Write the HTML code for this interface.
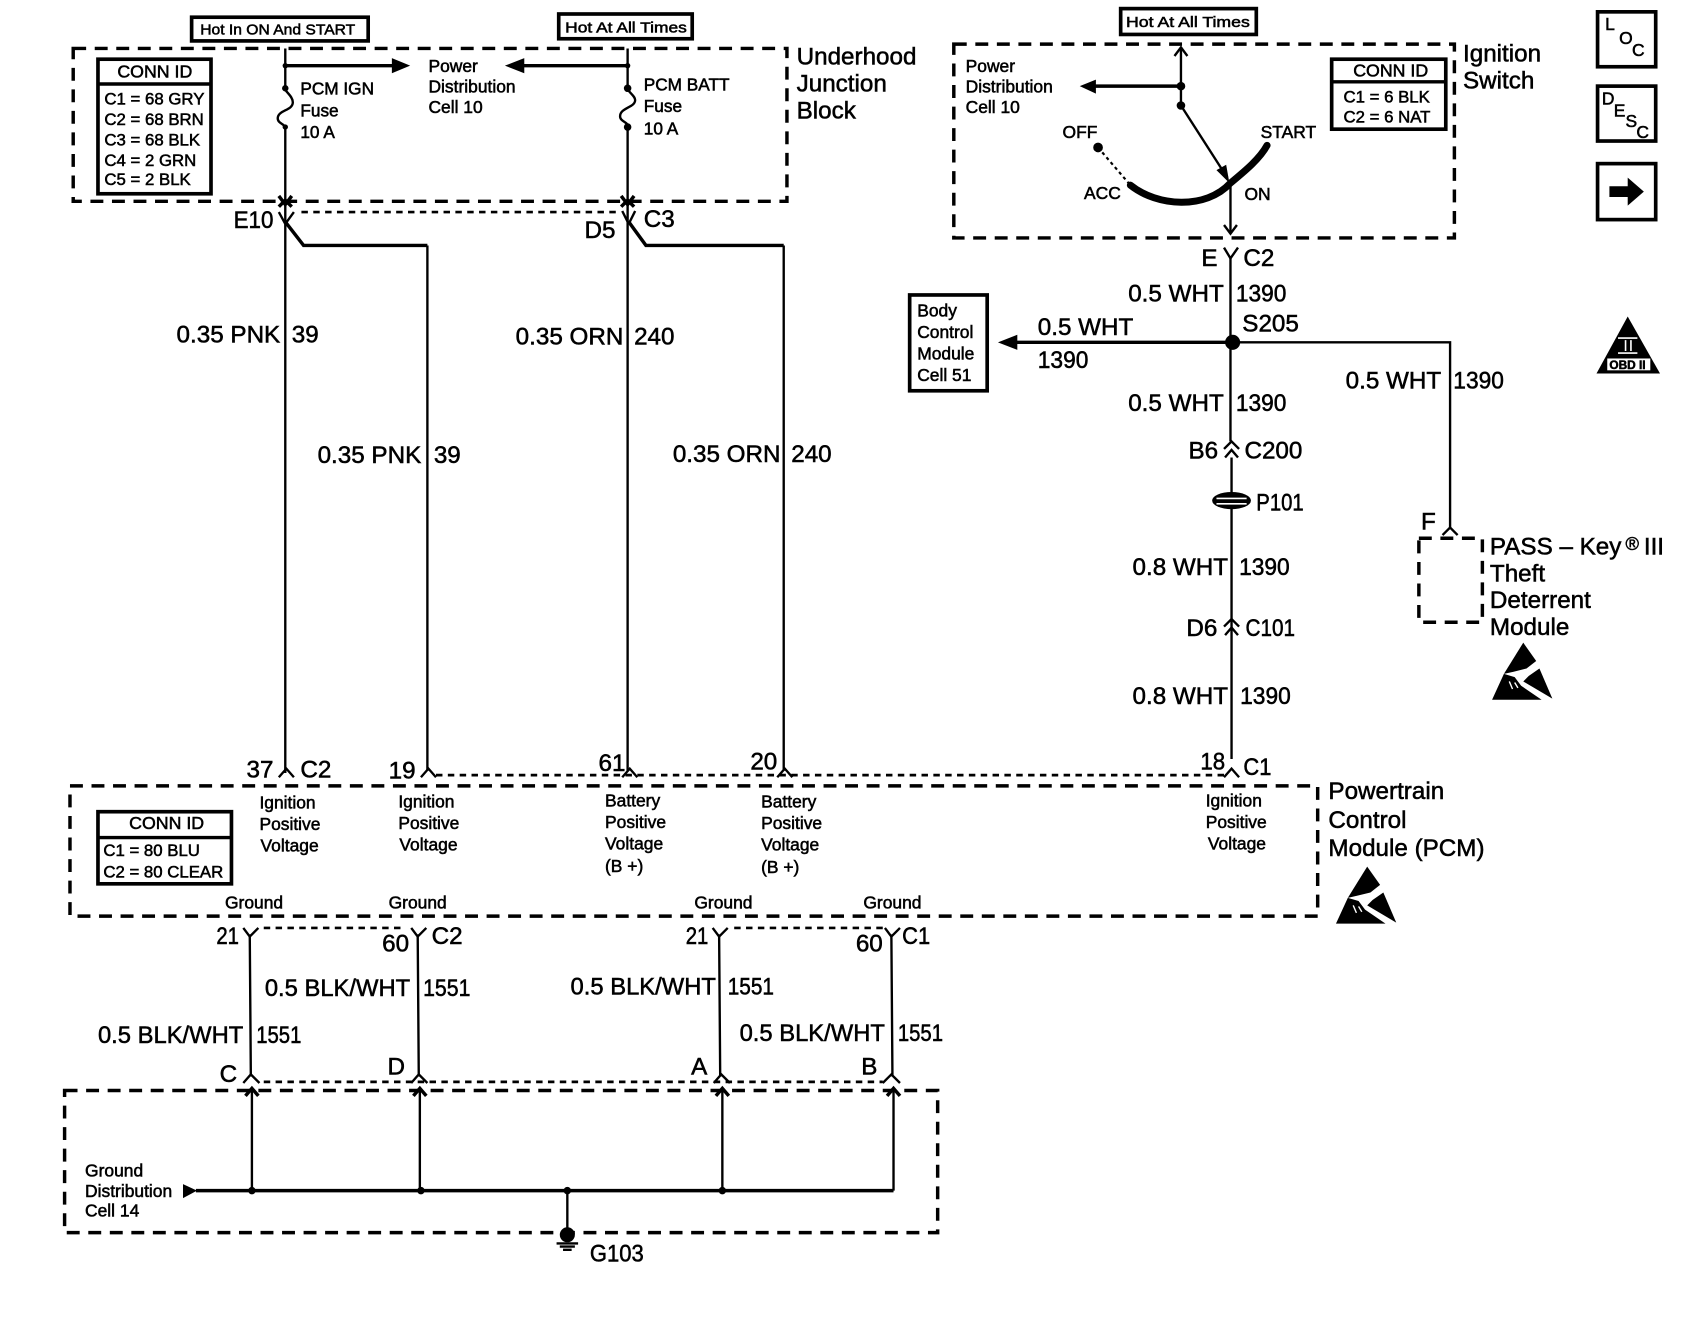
<!DOCTYPE html>
<html><head><meta charset="utf-8"><title>PCM wiring diagram</title>
<style>
html,body{margin:0;padding:0;background:#fff}
svg{display:block}
text{font-family:"Liberation Sans",sans-serif;fill:#000;stroke:#000;stroke-width:.5}
.s{font-size:16.2px}.m{font-size:22.5px}.t{font-size:14px}.c{font-size:15.6px}.h{font-size:16.5px}
.w{stroke:#000;stroke-width:2.2;fill:none}
.b{stroke:#000;stroke-width:3.2;fill:none}
.d{stroke:#000;stroke-width:3.2;fill:none;stroke-dasharray:12 8}
.o{stroke:#000;stroke-width:2.5;fill:none;stroke-dasharray:6 5}
.k{fill:#000;stroke:none}
.r{fill:#fff;stroke:#000;stroke-width:3.4}
</style></head><body>
<svg xmlns="http://www.w3.org/2000/svg" width="1688" height="1328" viewBox="0 0 1568 1233.6">
<defs>
<g id="esd">
<path class="k" d="M29 0L41 17L32 24L20 27L11 29Z"/>
<path class="k" d="M44 24L56 52L29 36L34 31Z"/>
<path class="k" d="M11 29L0 53H46L27 40L21 32Z"/>
<path d="M16 36L19 43M21 37L24 42" stroke="#fff" stroke-width="1.3" fill="none"/>
</g>
</defs>
<rect width="1568" height="1234" fill="#fff"/>

<!-- Tags -->
<rect class="r" x="178" y="16" width="164" height="22"/>
<text class="t" x="186" y="32" textLength="144" lengthAdjust="spacingAndGlyphs">Hot In ON And START</text>
<rect class="r" x="519" y="13" width="124" height="23"/>
<text class="t" x="525" y="30" textLength="113" lengthAdjust="spacingAndGlyphs">Hot At All Times</text>
<rect class="r" x="1041" y="8" width="126" height="24"/>
<text class="t" x="1046" y="25" textLength="115" lengthAdjust="spacingAndGlyphs">Hot At All Times</text>

<!-- Underhood Junction Block -->
<rect class="d" x="68" y="45" width="663" height="142"/>
<g class="m"><text x="740" y="60">Underhood</text><text x="740" y="85">Junction</text><text x="740" y="110">Block</text></g>
<rect class="r" x="91" y="55" width="105" height="125"/>
<path class="b" d="M91 78H196"/>
<text class="h" x="109" y="72">CONN ID</text>
<g class="c"><text x="97" y="97">C1 = 68 GRY</text><text x="97" y="116">C2 = 68 BRN</text><text x="97" y="135">C3 = 68 BLK</text><text x="97" y="154">C4 = 2 GRN</text><text x="97" y="172">C5 = 2 BLK</text></g>

<path class="w" d="M265 45V80M265 118V718"/>
<path class="w" d="M265 80C262 84 272 88 272 95C272 103 258 102 258 110C258 115 265 115 265 119"/>
<circle class="k" cx="265" cy="61" r="2.5"/><circle class="k" cx="265" cy="82" r="3"/><circle class="k" cx="265" cy="118" r="2.5"/>
<path class="b" d="M265 61H368"/><path class="k" d="M364 54L381 61L364 68Z"/>
<g class="s" style="font-size:16px"><text x="279" y="88">PCM IGN</text><text x="279" y="108">Fuse</text><text x="279" y="128">10 A</text></g>
<g class="s"><text x="398" y="67">Power</text><text x="398" y="86">Distribution</text><text x="398" y="105">Cell 10</text></g>

<path class="w" d="M583 45V79M583 116V716"/>
<path class="w" d="M583 79C580 84 590 88 590 93C590 100 576 100 576 108C576 113 583 113 583 117"/>
<circle class="k" cx="583" cy="61" r="2.5"/><circle class="k" cx="583" cy="82" r="3.5"/><circle class="k" cx="583" cy="118" r="3.5"/>
<path class="b" d="M583 61H482"/><path class="k" d="M487 54L469 61L487 68Z"/>
<g class="s" style="font-size:16px"><text x="598" y="84">PCM BATT</text><text x="598" y="104">Fuse</text><text x="598" y="125">10 A</text></g>

<path class="b" d="M259 182L265 190L271 182M259 192L265 186L271 192"/>
<path class="b" d="M577 182L583 190L589 182M577 192L583 186L589 192"/>
<path class="w" d="M259 197L265 208M273 197L265 208"/>
<path class="w" d="M578 196L584 208M590 196L584 208"/>
<path class="o" d="M280 197H574"/>
<path class="b" d="M265 206L282 228H397"/><path class="w" d="M397 228V716"/>
<path class="b" d="M584 206L600 228H728"/><path class="w" d="M728 228V716"/>
<g class="m"><text x="217" y="212" textLength="37" lengthAdjust="spacingAndGlyphs">E10</text><text x="543" y="221">D5</text><text x="598" y="211">C3</text></g>

<g class="m">
<text x="164" y="318">0.35 PNK</text><text x="271" y="318">39</text>
<text x="295" y="430">0.35 PNK</text><text x="403" y="430">39</text>
<text x="479" y="320">0.35 ORN</text><text x="589" y="320">240</text>
<text x="625" y="429">0.35 ORN</text><text x="735" y="429">240</text>
</g>

<!-- PCM top connectors -->
<path class="o" d="M405 720H1138"/>
<path class="w" d="M259 722L266 714L273 722M391 722L398 714L405 722M578 722L585 714L592 722M722 722L729 714L736 722M1137 722L1144 714L1151 722"/>
<g class="m"><text x="229" y="722">37</text><text x="279" y="722">C2</text><text x="361" y="723">19</text><text x="556" y="716">61</text><text x="697" y="715">20</text><text x="1115" y="715" textLength="23" lengthAdjust="spacingAndGlyphs">18</text><text x="1155" y="720" textLength="26" lengthAdjust="spacingAndGlyphs">C1</text></g>

<!-- PCM -->
<rect class="d" x="65" y="730" width="1159" height="121"/>
<g class="m"><text x="1234" y="742">Powertrain</text><text x="1234" y="769">Control</text><text x="1234" y="795">Module (PCM)</text></g>
<use href="#esd" x="1241" y="805"/>
<rect class="r" x="91" y="754" width="124" height="67"/>
<path class="b" d="M91 778H215"/>
<text class="h" x="120" y="770">CONN ID</text>
<g class="c"><text x="96" y="795">C1 = 80 BLU</text><text x="96" y="815">C2 = 80 CLEAR</text></g>
<g class="s">
<text x="241" y="751">Ignition</text><text x="241" y="771">Positive</text><text x="242" y="791">Voltage</text>
<text x="370" y="750">Ignition</text><text x="370" y="770">Positive</text><text x="371" y="790">Voltage</text>
<text x="562" y="749">Battery</text><text x="562" y="769">Positive</text><text x="562" y="789">Voltage</text><text x="562" y="810">(B +)</text>
<text x="707" y="750">Battery</text><text x="707" y="770">Positive</text><text x="707" y="790">Voltage</text><text x="707" y="811">(B +)</text>
<text x="1120" y="749">Ignition</text><text x="1120" y="769">Positive</text><text x="1122" y="789">Voltage</text>
<text x="209" y="844">Ground</text><text x="361" y="844">Ground</text><text x="645" y="844">Ground</text><text x="802" y="844">Ground</text>
</g>

<!-- Lower wires -->
<path class="o" d="M245 862H376M682 862H820"/>
<path class="w" d="M226 862L232 870L240 862M382 862L388 870L396 862M662 862L668 870L676 862M822 862L828 870L836 862"/>
<path class="w" d="M232 868L233 1000M388 868L389 1000M668 868L669 1000M828 868L829 1000"/>
<path class="o" d="M245 1005H820"/>
<path class="w" d="M226 1006L233 998L241 1006M382 1006L389 998L397 1006M663 1006L670 998L678 1006M820 1006L828 998L836 1006"/>
<g class="m"><text x="201" y="877" textLength="21" lengthAdjust="spacingAndGlyphs">21</text><text x="355" y="884">60</text><text x="401" y="877">C2</text><text x="637" y="877" textLength="21" lengthAdjust="spacingAndGlyphs">21</text><text x="795" y="884">60</text><text x="838" y="877" textLength="26" lengthAdjust="spacingAndGlyphs">C1</text>
<text x="91" y="969" textLength="135" lengthAdjust="spacingAndGlyphs">0.5 BLK/WHT</text><text x="238" y="969" textLength="42" lengthAdjust="spacingAndGlyphs">1551</text>
<text x="246" y="925" textLength="135" lengthAdjust="spacingAndGlyphs">0.5 BLK/WHT</text><text x="393" y="925" textLength="44" lengthAdjust="spacingAndGlyphs">1551</text>
<text x="530" y="924" textLength="135" lengthAdjust="spacingAndGlyphs">0.5 BLK/WHT</text><text x="676" y="924" textLength="43" lengthAdjust="spacingAndGlyphs">1551</text>
<text x="687" y="967" textLength="135" lengthAdjust="spacingAndGlyphs">0.5 BLK/WHT</text><text x="834" y="967" textLength="42" lengthAdjust="spacingAndGlyphs">1551</text>
<text x="204" y="1005">C</text><text x="360" y="998">D</text><text x="642" y="998">A</text><text x="800" y="998">B</text></g>

<!-- Ground block -->
<rect class="d" x="60" y="1013" width="811" height="132"/>
<path class="w" d="M234 1011V1106M390 1011V1106M671 1011V1106M830 1011V1106"/>
<path class="b" d="M228 1018L234 1011L240 1018M384 1018L390 1011L396 1018M665 1018L671 1011L677 1018M824 1018L830 1011L836 1018"/>
<path class="b" d="M182 1106H830"/>
<path class="k" d="M170 1100L183 1106L170 1113Z"/>
<circle class="k" cx="234" cy="1106" r="3.5"/><circle class="k" cx="391" cy="1106" r="3.5"/><circle class="k" cx="527" cy="1106" r="3.5"/><circle class="k" cx="671" cy="1106" r="3.5"/>
<path class="w" d="M527 1106V1142"/>
<circle class="k" cx="527" cy="1147" r="7"/>
<path class="w" d="M517 1155H537M520 1158H534M523 1161H531"/>
<text class="m" x="548" y="1172" textLength="50" lengthAdjust="spacingAndGlyphs">G103</text>
<g class="s"><text x="79" y="1093">Ground</text><text x="79" y="1112">Distribution</text><text x="79" y="1130">Cell 14</text></g>

<!-- Ignition Switch -->
<rect class="d" x="886" y="41" width="465" height="180"/>
<g class="m"><text x="1359" y="57">Ignition</text><text x="1359" y="82">Switch</text></g>
<rect class="r" x="1237" y="55" width="106" height="65"/>
<path class="b" d="M1237 76H1343"/>
<text class="h" x="1257" y="71">CONN ID</text>
<g class="c"><text x="1248" y="95">C1 = 6 BLK</text><text x="1248" y="114">C2 = 6 NAT</text></g>
<path class="w" d="M1097 44V100"/>
<path class="w" d="M1091 52L1097 44L1103 52"/>
<circle class="k" cx="1097" cy="80" r="4"/><circle class="k" cx="1097" cy="98" r="4"/>
<path class="b" d="M1097 80H1014"/><path class="k" d="M1018 74L1003 80L1018 87Z"/>
<g class="s"><text x="897" y="67">Power</text><text x="897" y="86">Distribution</text><text x="897" y="105">Cell 10</text></g>
<path class="w" d="M1097 98L1140 165"/>
<path class="k" d="M1130 158L1142 170L1139 153Z"/>
<path d="M1050 172C1075 192 1120 195 1143 170C1155 160 1170 148 1177 135" fill="none" stroke="#000" stroke-width="6.5" stroke-linecap="round"/>
<circle class="k" cx="1020" cy="137" r="4.5"/>
<path d="M1020 137L1050 172" stroke="#000" stroke-width="2" stroke-dasharray="3 3" fill="none"/>
<g class="s"><text x="987" y="128">OFF</text><text x="1171" y="128">START</text><text x="1007" y="185">ACC</text><text x="1156" y="186">ON</text></g>
<path class="w" d="M1143 172V216"/>
<path class="w" d="M1137 209L1143 217L1149 209"/>
<path class="w" d="M1137 230L1143 240L1150 230"/>
<path class="w" d="M1143 238V410M1144 425V705"/>
<g class="m"><text x="1116" y="247">E</text><text x="1155" y="247">C2</text>
<text x="1048" y="280">0.5 WHT</text><text x="1148" y="280" textLength="47" lengthAdjust="spacingAndGlyphs">1390</text>
<text x="1154" y="308">S205</text>
<text x="964" y="311">0.5 WHT</text><text x="964" y="342" textLength="47" lengthAdjust="spacingAndGlyphs">1390</text>
<text x="1250" y="361">0.5 WHT</text><text x="1350" y="361" textLength="47" lengthAdjust="spacingAndGlyphs">1390</text>
<text x="1048" y="382">0.5 WHT</text><text x="1148" y="382" textLength="47" lengthAdjust="spacingAndGlyphs">1390</text>
<text x="1104" y="426">B6</text><text x="1156" y="426">C200</text>
<text x="1167" y="474" textLength="44" lengthAdjust="spacingAndGlyphs">P101</text>
<text x="1052" y="534">0.8 WHT</text><text x="1151" y="534" textLength="47" lengthAdjust="spacingAndGlyphs">1390</text>
<text x="1102" y="591">D6</text><text x="1157" y="591" textLength="46" lengthAdjust="spacingAndGlyphs">C101</text>
<text x="1052" y="654">0.8 WHT</text><text x="1152" y="654" textLength="47" lengthAdjust="spacingAndGlyphs">1390</text>
<text x="1320" y="492">F</text>
</g>
<circle class="k" cx="1145" cy="318" r="7"/>
<path class="b" d="M1145 318H940"/><path class="k" d="M945 311L927 318L945 325Z"/>
<path class="w" d="M1145 318H1347V490"/>
<rect class="r" x="845" y="274" width="72" height="89"/>
<g class="s"><text x="852" y="294">Body</text><text x="852" y="314">Control</text><text x="852" y="334">Module</text><text x="852" y="354">Cell 51</text></g>

<!-- C200 / P101 / C101 -->
<path class="w" d="M1137 417L1144 410L1151 417M1138 425L1144 418L1150 425"/>
<path class="w" d="M1137 582L1144 575L1151 582M1138 590L1144 583L1150 590"/>
<ellipse class="k" cx="1144" cy="465" rx="18" ry="8"/>
<path d="M1130 463H1158M1130 468H1158" stroke="#fff" stroke-width="1.5"/>

<!-- PASS-Key -->
<path class="w" d="M1340 497L1347 490L1354 497"/>
<rect class="d" x="1318" y="500" width="59" height="78"/>
<g class="m"><text x="1384" y="515">PASS – Key</text><text x="1510" y="511" style="font-size:17px">®</text><text x="1527" y="515">III</text>
<text x="1384" y="540">Theft</text><text x="1384" y="565">Deterrent</text><text x="1384" y="590">Module</text></g>
<use href="#esd" x="1386" y="597"/>

<!-- Right icons -->
<rect class="r" x="1484" y="11" width="54" height="51"/>
<g class="s"><text x="1491" y="28">L</text><text x="1504" y="41">O</text><text x="1516" y="52">C</text></g>
<rect class="r" x="1484" y="80" width="54" height="51"/>
<g class="s"><text x="1488" y="97">D</text><text x="1499" y="108">E</text><text x="1510" y="118">S</text><text x="1520" y="128">C</text></g>
<rect class="r" x="1484" y="152" width="54" height="52"/>
<path class="k" d="M1495 173H1512V165L1527 178L1512 191V183H1495Z"/>
<path class="k" d="M1512 294L1483 347H1542Z"/>
<path d="M1503 314H1521M1503 328H1521M1510 316V326M1515 316V326" stroke="#fff" stroke-width="1.5" fill="none"/>
<rect x="1493" y="333" width="40" height="11" fill="#fff"/>
<text x="1495" y="343" style="font-size:11px;font-weight:bold">OBD II</text>
</svg>
</body></html>
